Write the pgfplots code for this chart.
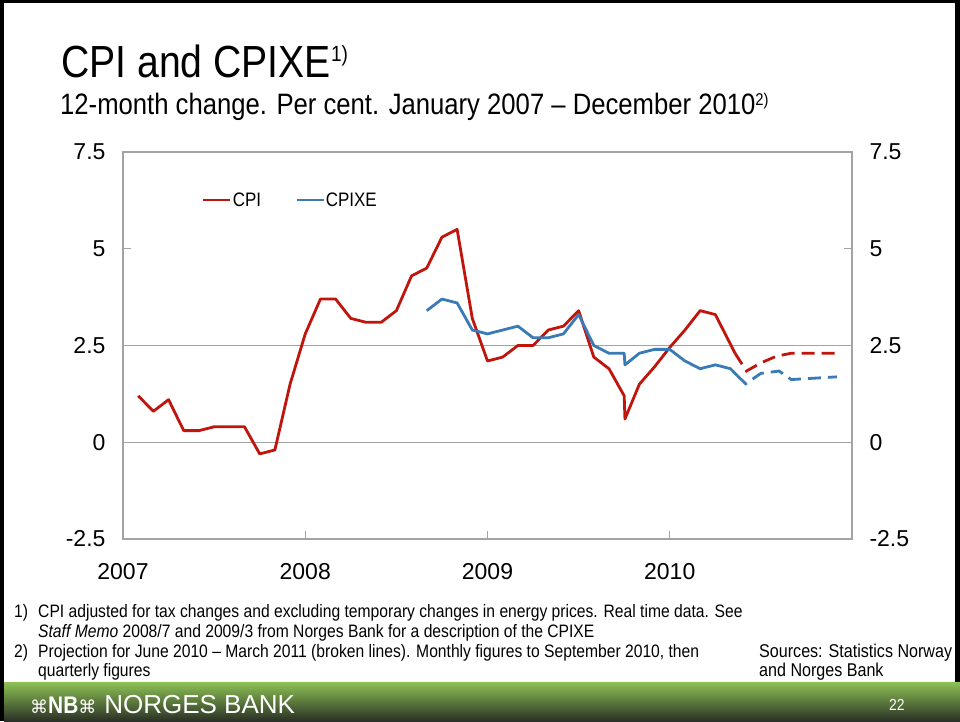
\documentclass[border=0pt]{standalone}
\usepackage{fontspec}
\setmainfont{Liberation Sans}
\newfontfamily\narrow{Liberation Sans}[FakeStretch=0.87]
\newfontfamily\dejavu{DejaVu Sans}
\usepackage{pgfplots}
\pgfplotsset{compat=1.18}
\definecolor{nbred}{HTML}{C0150C}
\definecolor{nbblue}{HTML}{3A7AB5}
\definecolor{framegray}{HTML}{A3A3A3}
\definecolor{bartop}{HTML}{8DC255}
\definecolor{barmid}{HTML}{5C7E3A}
\definecolor{barbot}{HTML}{2A3025}

\begin{document}
\begin{tikzpicture}[x=1pt,y=1pt]
% slide frame and footer bar
\fill[black] (0,0) rectangle (960,721);
\fill[white] (4,39) rectangle (955,718);
\shade[top color=bartop, middle color=barmid, bottom color=barbot] (4,0) rectangle (960,39);

% titles
\node[anchor=base west, inner sep=0pt] at (61,643)
  {\narrow\fontsize{45}{45}\selectfont CPI and CPIXE\raisebox{16pt}{\fontsize{22}{22}\selectfont 1)}};
\node[anchor=base west, inner sep=0pt] at (60,606)
  {\narrow\fontsize{29.5}{29.5}\selectfont 12-month change. Per cent. January 2007 – December 2010\raisebox{9pt}{\fontsize{17}{17}\selectfont 2)}};

\begin{axis}[
    at={(123pt,182pt)}, anchor=south west,
    scale only axis, width=729pt, height=387pt,
    xmin=0, xmax=48, ymin=-2.5, ymax=7.5,
    axis line style={framegray, line width=1.2pt},
    tick style={framegray, line width=1.2pt},
    tick align=inside, major tick length=8pt,
    xtick={0,12,24,36}, xticklabels={2007,2008,2009,2010}, xtick pos=bottom,
    ytick={-2.5,0,2.5,5,7.5}, yticklabels={-2.5,0,2.5,5,7.5},
    ytick pos=both, yticklabel pos=left,
    extra y ticks={0,2.5}, extra y tick labels={},
    extra y tick style={grid=major, major grid style={framegray, line width=1.5pt}},
    ticklabel style={font=\fontsize{23}{23}\selectfont},
    xticklabel style={yshift=-21pt},
    yticklabel style={xshift=-14pt},
    legend style={draw=none, fill=none, at={(0.104,0.876)}, anchor=west,
      legend columns=2, font=\narrow\fontsize{19.5}{19.5}\selectfont,
      nodes={inner sep=1pt},
      /tikz/every even column/.append style={column sep=33pt}},
    legend image code/.code={\draw[#1] (0pt,0pt) -- (27pt,0pt);},
    legend cell align=left,
]
\addplot[nbred, line width=2.8pt, line join=round] coordinates {
 (1,1.2)(2,0.8)(3,1.1)(4,0.3)(5,0.3)(6,0.4)(7,0.4)(8,0.4)(9,-0.3)(10,-0.2)
 (11,1.5)(12,2.8)(13,3.7)(14,3.7)(15,3.2)(16,3.1)(17,3.1)(18,3.4)(19,4.3)(20,4.5)
 (21,5.3)(22,5.5)(23,3.2)(24,2.1)(25,2.2)(26,2.5)(27,2.5)(28,2.9)(29,3.0)(30,3.4)
 (31,2.2)(32,1.9)(33,1.2)(33.05,0.6)(34,1.5)(35,1.95)(36,2.45)(37,2.9)(38,3.4)(39,3.3)
 (40.3,2.3)
};
\addlegendentry{CPI}
\addplot[nbblue, line width=2.8pt, line join=round] coordinates {
 (20,3.4)(21,3.7)(22,3.6)(23,2.9)(24,2.8)(25,2.9)(26,3.0)(27,2.7)(28,2.7)(29,2.8)
 (30,3.3)(31,2.5)(32,2.3)(33,2.3)(33.05,2.0)(34,2.3)(35,2.4)(36,2.4)(37,2.1)(38,1.9)
 (39,2.0)(40,1.9)(40.45,1.72)
};
\addlegendentry{CPIXE}
% projections
\addplot[nbred, line width=2.8pt, dash pattern=on 13pt off 7pt, forget plot] coordinates {
 (40.3,2.3)(41.05,1.84)(42,2.05)(43,2.22)(44,2.3)(47,2.3)
};
\addplot[nbblue, line width=2.8pt, dash pattern=on 13pt off 7pt, forget plot] coordinates {
 (40.45,1.72)(41,1.51)(42,1.78)(43.2,1.84)(44,1.62)(47,1.69)
};
\end{axis}

% right-hand tick labels
\begin{axis}[
    at={(123pt,182pt)}, anchor=south west,
    scale only axis, width=729pt, height=387pt,
    xmin=0, xmax=48, ymin=-2.5, ymax=7.5,
    hide x axis,
    axis line style={draw=none}, tick style={draw=none},
    ytick={-2.5,0,2.5,5,7.5}, yticklabels={-2.5,0,2.5,5,7.5},
    ytick pos=right, yticklabel pos=right,
    ticklabel style={font=\fontsize{23}{23}\selectfont},
    yticklabel style={xshift=14pt},
]
\addplot[draw=none] coordinates {(0,0)};
\end{axis}

% footnotes
\begin{scope}[every node/.style={anchor=base west, inner sep=0pt,
    font=\narrow\fontsize{18}{18}\selectfont}]
\node at (14,103.5) {1)};
\node at (38,103.5) {CPI adjusted for tax changes and excluding temporary changes in energy prices. Real time data. See};
\node at (38,83.5) {\textit{Staff Memo} 2008/7 and 2009/3 from Norges Bank for a description of the CPIXE};
\node at (14,63.5) {2)};
\node at (38,63.5) {Projection for June 2010 – March 2011 (broken lines). Monthly figures to September 2010, then};
\node at (38,44.5) {quarterly figures};
\node[font=\narrow\fontsize{18.5}{18.5}\selectfont] at (759,64) {Sources: Statistics Norway};
\node[font=\narrow\fontsize{18.5}{18.5}\selectfont] at (759,45) {and Norges Bank};
\end{scope}

% footer logo and page number
\node[anchor=base west, inner sep=0pt, text=white] at (30,7.5)
  {{\dejavu\fontsize{18}{18}\selectfont ⌘}{\narrow\bfseries\fontsize{24}{24}\selectfont NB}{\dejavu\fontsize{18}{18}\selectfont ⌘}\hspace{8pt}{\fontsize{26}{26}\selectfont NORGES BANK}};
\node[anchor=base west, inner sep=0pt, text=white] at (889,11)
  {\narrow\fontsize{16}{16}\selectfont 22};
\end{tikzpicture}
\end{document}
